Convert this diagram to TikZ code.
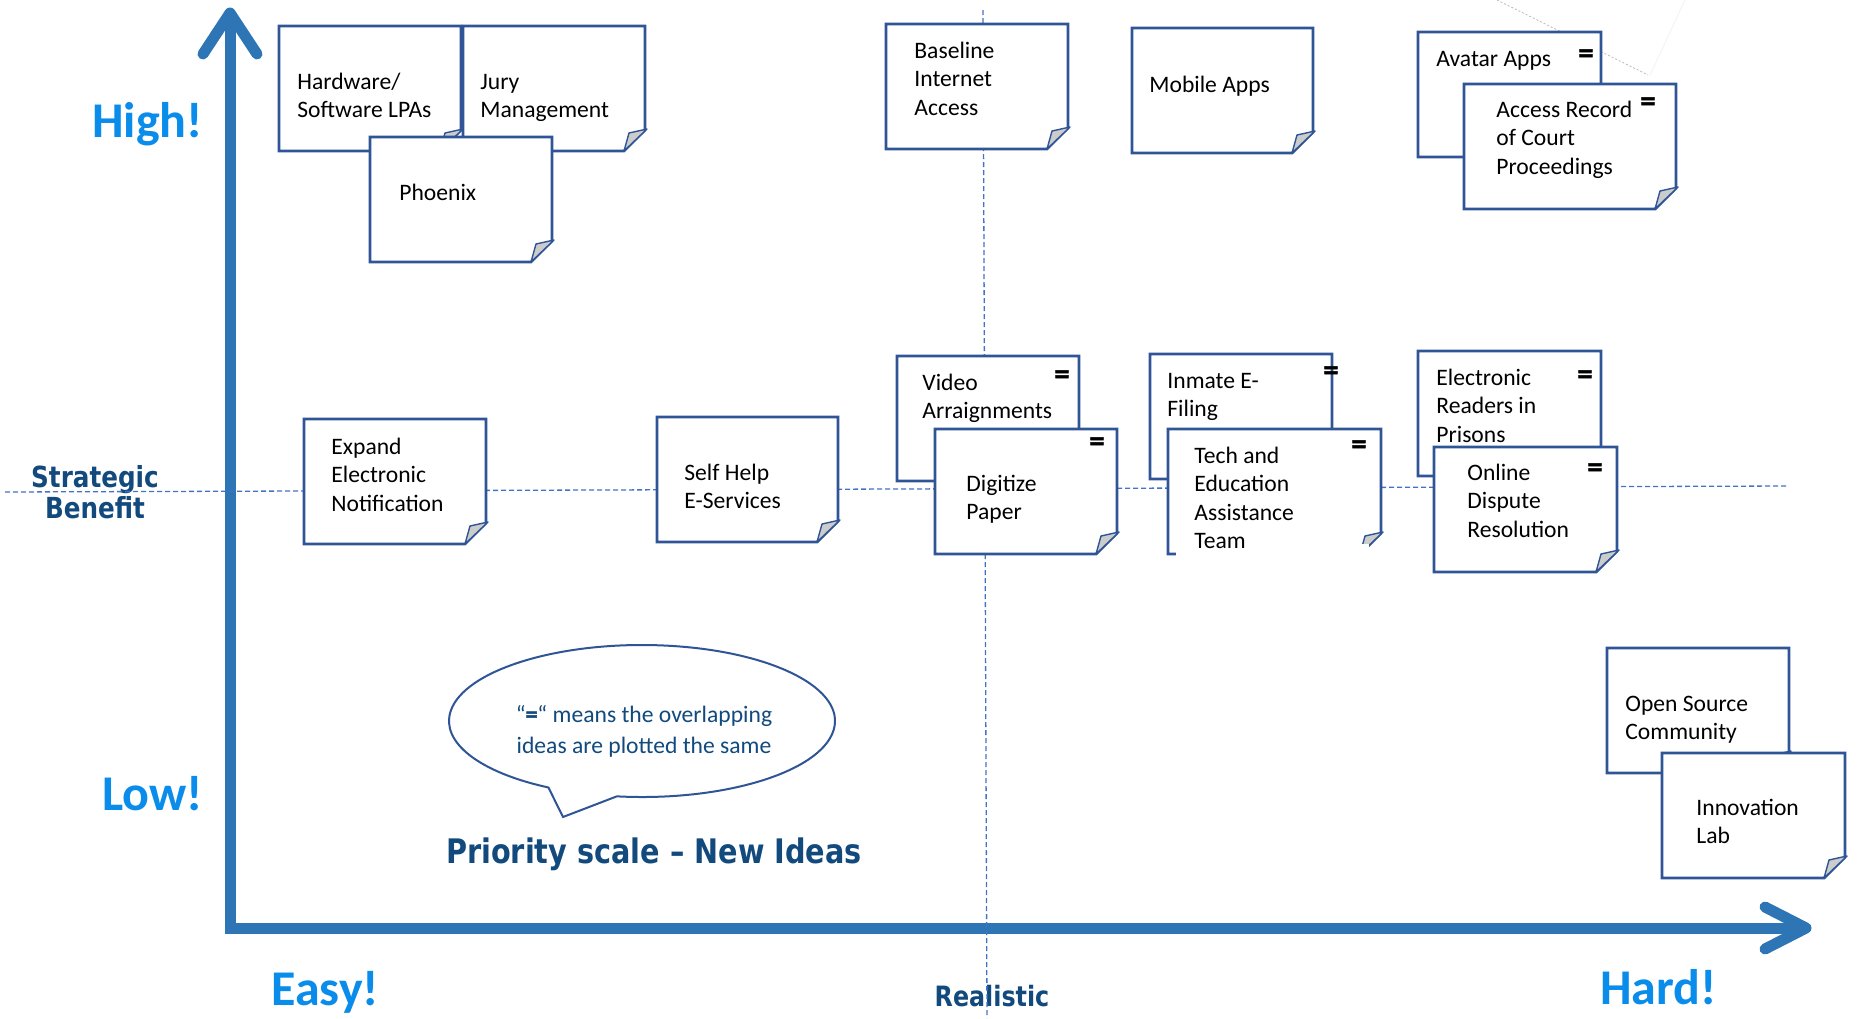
\documentclass[tikz,border=0pt]{standalone}
\usepackage{fontspec}
\setmainfont{Carlito}
\newfontfamily\headfont[FakeStretch=0.85]{DejaVu Sans}
\newfontfamily\eqfont[BoldFeatures={FakeBold=1.6}]{Carlito}
\definecolor{axisblue}{HTML}{2E75B6}
\definecolor{boxblue}{HTML}{2F5597}
\definecolor{brightblue}{RGB}{10,140,235}
\definecolor{navyblue}{RGB}{18,74,125}
\definecolor{dashblue}{HTML}{4472C4}
\definecolor{foldgray}{HTML}{CCCCCC}
\newcommand\ls[1]{\begin{tabular}[t]{@{}l@{}}#1\end{tabular}}
\newcommand\cs[1]{\begin{tabular}[t]{@{}c@{}}#1\end{tabular}}
% #1 width, #2 name, #3 left, #4 top, #5 dx, #6 dy, #7 text
\newcommand\stickynote[7][182]{%
  \draw[noteline] (#3,#4) -- ++(#1,0) -- ++(0,104) -- ++(-21,21) -- ++(-#1+21,0) -- cycle;
  \filldraw[foldstyle] (#3+#1-21,#4+125) -- (#3+#1-16,#4+107) -- (#3+#1+2,#4+103) -- cycle;
  \node[notetext] (#2) at (#3+#5,#4+#6) {\ls{#7}};
}
\newcommand\eqsign[3]{\node[eqmark] (#1) at (#2,#3) {=};}
\tikzset{
  noteline/.style={draw=boxblue, line width=1.4pt, fill=white, line join=miter},
  foldstyle/.style={draw=boxblue, line width=0.7pt, fill=foldgray, line join=round},
  notetext/.style={inner sep=0pt, anchor=base west, font=\fontsize{11.8}{14.25}\selectfont, text=black},
  eqmark/.style={inner sep=0pt, font=\fontsize{15}{15}\selectfont\eqfont\bfseries, text=black},
  axisline/.style={draw=axisblue, line width=5.5pt, line join=miter},
  axishead/.style={draw=axisblue, line width=5.5pt, line cap=round, line join=round},
  guide/.style={draw=dashblue, line width=0.65pt, dash pattern=on 2.5pt off 1.5pt},
  levellabel/.style={inner sep=0pt, anchor=base west, text=brightblue, font=\fontsize{25}{30}\selectfont\bfseries},
  headlabel/.style={inner sep=0pt, anchor=base, text=navyblue},
  bubble/.style={draw=boxblue, line width=1pt, fill=white, line join=miter},
}
\begin{document}
\begin{tikzpicture}[x=0.5pt,y=-0.5pt]
\useasboundingbox (0,0) rectangle (1858,1018);
% faint lines top right
\draw[gray!55, line width=0.4pt, dash pattern=on 1pt off 1pt] (1497,0) -- (1648,75);
\draw[gray!10, line width=0.4pt] (1685,0) -- (1650,75);
% axes
\draw[axisline] (230,22) -- (230,928) -- (1800,928);
\draw[axishead] (203,54) -- (230,13) -- (257,54);
\draw[axishead] (1765,907) -- (1806,928) -- (1765,949);
% labels
\node[levellabel] (high) at (92,137) {High!};
\node[levellabel] (low) at (102,810) {Low!};
\node[levellabel] (easy) at (271,1005) {Easy!};
\node[levellabel] (hard) at (1600,1004) {Hard!};
\node[headlabel, font=\fontsize{14.5}{15.5}\selectfont\headfont\bfseries] (benefit) at (95,487) {\cs{Strategic\\Benefit}};
\node[headlabel, font=\fontsize{14}{14}\selectfont\headfont\bfseries] (realistic) at (992,1006) {Realistic};
\node[headlabel, font=\fontsize{16.9}{18}\selectfont\headfont\bfseries] (title) at (654,863) {Priority scale – New Ideas};
% guide lines
\draw[guide] (5,492) -- (1788,486);
\draw[guide] (983,10) -- (987,1018);
% speech bubble
\draw[bubble] (642,721) ++(97.5:193 and 76) arc[start angle=97.5, end angle=-241, x radius=193, y radius=76] -- (563,817) -- cycle;
\node[inner sep=0pt, anchor=base, text=navyblue, font=\fontsize{11.8}{15.5}\selectfont] (note) at (644,722) {\cs{“{\eqfont\bfseries =}“ means the overlapping\\ideas are plotted the same}};
% sticky notes
\stickynote{hw}{279}{26}{18}{63}{Hardware/\\Software LPAs}
\stickynote{jury}{463}{26}{17}{63}{Jury\\Management}
\stickynote{phoenix}{370}{137}{29}{63}{Phoenix}
\stickynote{baseline}{886}{24}{28}{34}{Baseline\\Internet\\Access}
\stickynote[181]{mobile}{1132}{28}{17}{64}{Mobile Apps}
\stickynote[183]{avatar}{1418}{32}{18}{34}{Avatar Apps}
\eqsign{eqavatar}{1586}{56}
\stickynote[212]{access}{1464}{84}{32}{33}{Access Record\\of Court\\Proceedings}
\eqsign{eqaccess}{1648}{104}
\stickynote{expand}{304}{419}{27}{35}{Expand\\Electronic\\Notification}
\stickynote[181]{selfhelp}{657}{417}{27}{63}{Self Help\\E-Services}
\stickynote{video}{897}{356}{25}{34}{Video\\Arraignments}
\eqsign{eqvideo}{1062}{377}
\stickynote{digitize}{935}{429}{31}{62}{Digitize\\Paper}
\eqsign{eqdigitize}{1097}{444}
\stickynote{inmate}{1150}{354}{17}{34}{Inmate E-\\Filing}
\eqsign{eqinmate}{1331}{373}
% Tech box with its lower edge hidden
\draw[noteline] (1168,429) -- ++(213,0) -- ++(0,104) -- ++(-21,21) -- ++(-192,0) -- cycle;
\filldraw[foldstyle] (1360,554) -- (1365,536) -- (1383,532) -- cycle;
\fill[white] (1176,544) rectangle (1369,560);
\node[notetext] (tech) at (1194,463) {\ls{Tech and\\Education\\Assistance\\Team}};
\eqsign{eqtech}{1359}{447}
\stickynote[183]{ereaders}{1418}{351}{18}{34}{Electronic\\Readers in\\Prisons}
\eqsign{eqereaders}{1585}{377}
\stickynote[183]{online}{1434}{447}{33}{33}{Online\\Dispute\\Resolution}
\eqsign{eqonline}{1595}{470}
\stickynote{opensource}{1607}{648}{18}{63}{Open Source\\Community}
\stickynote[183]{innovation}{1662}{753}{34}{62}{Innovation\\Lab}
\end{tikzpicture}
\end{document}
